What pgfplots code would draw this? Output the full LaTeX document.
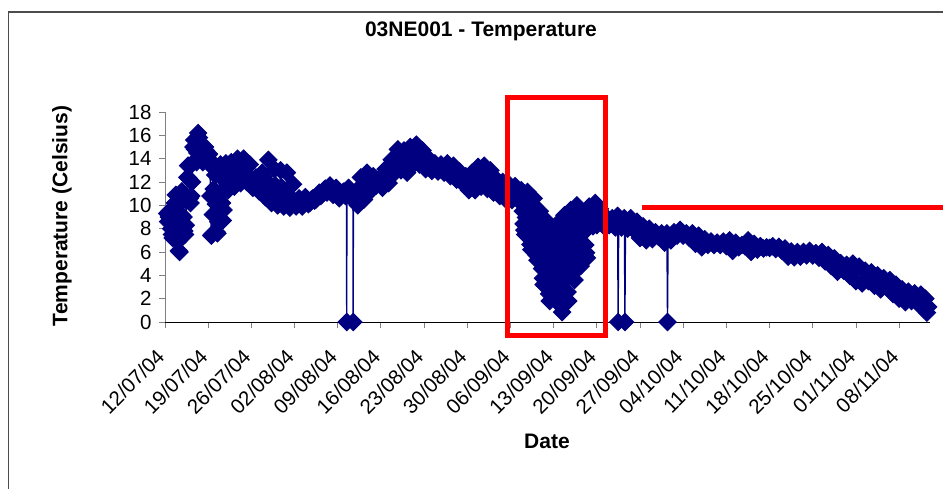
\documentclass[border=0pt]{standalone}
\usepackage{pgfplots}
\pgfplotsset{compat=1.18}
\usepackage{fontspec}
\setmainfont{Liberation Sans}
\definecolor{navy}{RGB}{0,0,128}
\definecolor{axisgray}{RGB}{128,128,128}
\begin{document}
\begin{tikzpicture}
\useasboundingbox (0,0) rectangle (943pt,-489pt);
\fill[white] (0,0) rectangle (943pt,-489pt);
% chart area frame (only left and top edges are inside the crop)
\draw[line width=1.2pt, black!70] (8.5pt,-495pt) -- (8.5pt,-12pt) -- (950pt,-12pt);
\begin{axis}[
  at={(165pt,-322pt)}, anchor=south west,
  scale only axis, width=765pt, height=210pt,
  xmin=0, xmax=124, ymin=0, ymax=18,
  axis x line=bottom, axis y line=left,
  axis line style={-},
  x axis line style={black, line width=0.9pt},
  y axis line style={axisgray, line width=0.9pt},
  tick align=outside, major tick length=6pt,
  tick style={axisgray, line width=0.9pt},
  ytick={0,2,...,18},
  xtick={0,7,...,119},
  xticklabels={12/07/04,19/07/04,26/07/04,02/08/04,09/08/04,16/08/04,23/08/04,30/08/04,06/09/04,13/09/04,20/09/04,27/09/04,04/10/04,11/10/04,18/10/04,25/10/04,01/11/04,08/11/04},
  /pgf/number format/assume math mode=true,
  ticklabel style={font=\fontsize{20.5}{24}\selectfont},
  yticklabel style={anchor=east, xshift=-4pt},
  xticklabel style={anchor=east, xshift=-2pt, yshift=-23pt, rotate=45},
  clip=false,
]
\addplot[navy, line width=1.3pt, mark=square*, mark size=6.1pt,
  mark options={rotate=45, line width=1pt, fill=navy, draw=navy}] coordinates {
(0.375,9.3) (0.5,8.6) (0.625,9.0) (0.75,9.5) (0.875,8.9)
(1,8.0) (1.125,7.5) (1.25,7.2) (1.375,7.9) (1.5,9.0) (1.625,10.2) (1.75,10.9) (1.875,9.9)
(2,8.2) (2.125,6.9) (2.25,6.1) (2.375,6.0) (2.5,7.3) (2.625,9.2) (2.75,11.2) (2.875,10.6)
(3,9.0) (3.125,7.8) (3.25,7.5) (3.375,8.3) (3.5,10.4) (3.625,12.4) (3.75,13.4) (3.875,12.3)
(4,10.6) (4.125,10.2) (4.25,10.8) (4.375,12.0) (4.5,13.6) (4.625,15.0) (4.75,15.6) (4.875,14.8)
(5,13.9) (5.125,13.7) (5.25,14.5) (5.375,16.2) (5.5,15.8) (5.625,15.1) (5.75,14.6) (5.875,14.0)
(6,13.8) (6.125,13.7) (6.25,14.0) (6.375,14.6) (6.5,15.0) (6.625,14.7) (6.75,14.4) (6.875,14.0)
(7,14.3) (7.125,14.4) (7.25,13.9) (7.375,10.8) (7.5,7.4) (7.625,7.5) (7.75,9.2) (7.875,11.4)
(8,13.1) (8.125,12.6) (8.25,10.1) (8.375,7.7) (8.5,7.6) (8.625,8.6) (8.75,10.9) (8.875,13.3)
(9,13.5) (9.125,12.4) (9.25,10.2) (9.375,8.7) (9.5,9.6) (9.625,11.4) (9.75,13.4) (9.875,13.6)
(10,12.62) (10.25,11.3) (10.5,12.02) (10.75,13.7)
(11,12.92) (11.25,11.6) (11.5,12.32) (11.75,14.0)
(12,13.06) (12.25,11.9) (12.5,12.53) (12.75,14.0)
(13,12.83) (13.25,12.0) (13.5,12.45) (13.75,13.5)
(14,12.0) (14.25,11.5) (14.5,11.77) (14.75,12.4)
(15,12.08) (15.25,11.2) (15.5,11.68) (15.75,12.8)
(16,12.46) (16.25,10.7) (16.5,11.66) (16.75,13.9)
(17,11.8) (17.25,10.2) (17.5,11.07) (17.75,13.1)
(18,11.65) (18.25,10.0) (18.5,10.9) (18.75,13.0)
(19,11.5) (19.25,9.9) (19.5,10.77) (19.75,12.8)
(20,10.9) (20.25,9.8) (20.5,10.4) (20.75,11.8)
(21,10.29) (21.25,9.9) (21.5,10.11) (21.75,10.6)
(22,10.34) (22.25,9.9) (22.5,10.14) (22.75,10.7)
(23,10.32) (23.25,10.1) (23.5,10.22) (23.75,10.5)
(24,10.62) (24.25,10.4) (24.5,10.52) (24.75,10.8)
(25,11.08) (25.25,10.8) (25.5,10.95) (25.75,11.3)
(26,11.43) (26.25,11.1) (26.5,11.28) (26.75,11.7)
(27,11.23) (27.25,10.9) (27.5,11.08) (27.75,11.5)
(28,10.88) (28.25,10.6) (28.5,10.75) (28.75,11.1)
(29,11.19) (29.25,10.8) (29.4,11.0) (29.45,0) (29.5,11.0) (29.75,11.5)
(30,11.18) (30.25,10.9) (30.45,11.0) (30.5,0) (30.55,10.8) (30.75,10.5)
(31,10.2) (31.25,10.0) (31.5,11.0) (31.75,12.4)
(32,11.77) (32.25,10.5) (32.5,11.19) (32.75,12.8)
(33,11.92) (33.25,11.2) (33.5,11.59) (33.75,12.5)
(34,11.98) (34.25,11.7) (34.5,11.85) (34.75,12.2)
(35,12.38) (35.25,11.5) (35.5,11.98) (35.75,13.1)
(36,13.0) (36.25,11.9) (36.5,12.5) (36.75,13.9)
(37,13.9) (37.25,12.8) (37.5,13.4) (37.75,14.8)
(38,13.94) (38.25,13.0) (38.5,13.51) (38.75,14.7)
(39,14.01) (39.25,12.8) (39.5,13.46) (39.75,15.0)
(40,14.44) (40.25,13.5) (40.5,14.01) (40.75,15.2)
(41,14.16) (41.25,13.5) (41.5,13.86) (41.75,14.7)
(42,13.6) (42.25,13.1) (42.5,13.37) (42.75,14.0)
(43,13.31) (43.25,12.95) (43.5,13.15) (43.75,13.6)
(44,13.23) (44.25,12.9) (44.5,13.08) (44.75,13.5)
(45,13.24) (45.25,12.8) (45.5,13.04) (45.75,13.6)
(46,13.0) (46.25,12.5) (46.5,12.77) (46.75,13.4)
(47,12.59) (47.25,12.2) (47.5,12.41) (47.75,12.9)
(48,12.23) (48.25,11.9) (48.5,12.08) (48.75,12.5)
(49,12.13) (49.25,11.3) (49.5,11.75) (49.75,12.8)
(50,12.4) (50.25,11.3) (50.5,11.9) (50.75,13.3)
(51,12.59) (51.25,11.6) (51.5,12.14) (51.75,13.4)
(52,12.28) (52.25,11.4) (52.5,11.88) (52.75,13.0)
(53,11.71) (53.25,11.1) (53.5,11.43) (53.75,12.2)
(54,11.46) (54.25,10.8) (54.5,11.16) (54.75,12.0)
(55,11.22) (55.25,10.5) (55.5,10.89) (55.75,11.8)
(56,11.11) (56.25,10.45) (56.5,10.81) (56.75,11.65)
(57,10.9) (57.125,10.63) (57.25,10.49) (57.375,10.4) (57.5,10.76) (57.625,11.03) (57.75,11.3) (57.875,11.17)
(58,9.51) (58.125,8.41) (58.25,7.87) (58.375,7.5) (58.5,8.96) (58.625,10.06) (58.75,11.15) (58.875,10.6)
(59,8.62) (59.125,7.3) (59.25,6.64) (59.375,6.2) (59.5,7.96) (59.625,9.28) (59.75,10.6) (59.875,9.94)
(60,7.61) (60.125,6.35) (60.25,5.72) (60.375,5.3) (60.5,6.98) (60.625,8.24) (60.75,9.5) (60.875,8.87)
(61,6.23) (61.125,4.58) (61.25,3.75) (61.375,3.2) (61.5,5.4) (61.625,7.05) (61.75,8.7) (61.875,7.88)
(62,5.16) (62.125,3.33) (62.25,2.41) (62.375,1.8) (62.5,4.24) (62.625,6.07) (62.75,7.9) (62.875,6.99)
(63,5.49) (63.125,3.48) (63.25,2.47) (63.375,1.8) (63.5,4.48) (63.625,6.49) (63.75,8.5) (63.875,7.5)
(64,5.42) (64.125,2.93) (64.25,1.68) (64.375,0.85) (64.5,4.17) (64.625,6.66) (64.75,9.15) (64.875,7.9)
(65,6.09) (65.125,3.75) (65.25,2.58) (65.375,1.8) (65.5,4.92) (65.625,7.26) (65.75,9.6) (65.875,8.43)
(66,7.12) (66.125,5.2) (66.25,4.24) (66.375,3.6) (66.5,6.16) (66.625,8.08) (66.75,10.0) (66.875,9.04)
(67,7.33) (67.125,5.95) (67.25,5.26) (67.375,4.8) (67.5,6.64) (67.625,8.02) (67.75,9.4) (67.875,8.71)
(68,7.92) (68.125,6.6) (68.25,5.94) (68.375,5.5) (68.5,8.0) (68.625,8.58) (68.75,9.9) (68.875,9.24)
(69,9.3) (69.125,8.7) (69.25,8.4) (69.375,8.2) (69.5,9.0) (69.625,9.6) (69.75,10.2) (69.875,9.9)
(70,8.3) (70.5,9.7) (71,8.3) (71.5,9.0) (72,8.3) (72.5,8.9)
(73,8.1) (73.35,9.1) (73.45,0) (73.55,8.6) (74,8.1) (74.45,8.9) (74.55,0) (74.65,8.5)
(75,8.0) (75.5,8.9) (76,7.9) (76.5,8.6) (77,7.2) (77.5,8.2) (78,7.0) (78.5,8.0)
(79,7.1) (79.5,7.7) (80,7.3) (80.5,7.6) (81,6.8) (81.35,7.6) (81.45,0) (81.55,7.2)
(82,7.0) (82.5,7.7) (83,7.4) (83.5,7.9) (84,7.4) (84.5,7.6) (85,7.2) (85.5,7.6)
(86,6.7) (86.5,7.4) (87,6.4) (87.5,7.1) (88,6.6) (88.5,6.9) (89,6.6) (89.5,6.8)
(90,6.6) (90.5,6.9) (91,6.5) (91.5,7.0) (92,6.1) (92.5,6.8) (93,6.4) (93.5,6.6)
(94,6.5) (94.5,7.0) (95,6.0) (95.5,6.7) (96,6.2) (96.5,6.5) (97,6.3) (97.5,6.4)
(98,6.35) (98.5,6.5) (99,6.25) (99.5,6.45) (100,6.1) (100.5,6.3) (101,5.6) (101.5,6.05)
(102,5.55) (102.5,6.0) (103,5.6) (103.5,6.0) (104,5.7) (104.5,6.1) (105,5.7) (105.5,5.9)
(106,5.5) (106.5,6.0) (107,5.2) (107.5,5.75) (108,4.8) (108.5,5.45) (109,4.3) (109.5,5.05)
(110,4.4) (110.5,4.9) (111,3.95) (111.5,5.0) (112,3.5) (112.5,4.75) (113,3.3) (113.5,4.4)
(114,3.5) (114.5,4.25) (115,3.1) (115.5,4.0) (116,2.8) (116.5,3.75) (117,3.0) (117.5,3.6)
(118,2.4) (118.5,3.2) (119,2.0) (119.5,2.8) (120,1.7) (120.5,2.6) (121,1.8) (121.5,2.45)
(122,1.6) (122.5,2.35) (123,1.1) (123.25,2.0) (123.5,0.8) (123.7,1.3)
};
\end{axis}
% red annotations drawn over the chart
\draw[red, line width=5pt] (507pt,-97.5pt) rectangle (605.5pt,-335.5pt);
\draw[red, line width=5pt] (642pt,-207.5pt) -- (950pt,-207.5pt);
\node[font=\bfseries\fontsize{21}{25}\selectfont] at (481pt,-31pt) {03NE001 - Temperature};
\node[font=\bfseries\fontsize{21}{25}\selectfont, rotate=90] at (62pt,-216pt) {Temperature (Celsius)};
\node[font=\bfseries\fontsize{21}{25}\selectfont] at (547pt,-441pt) {Date};
\end{tikzpicture}
\end{document}
